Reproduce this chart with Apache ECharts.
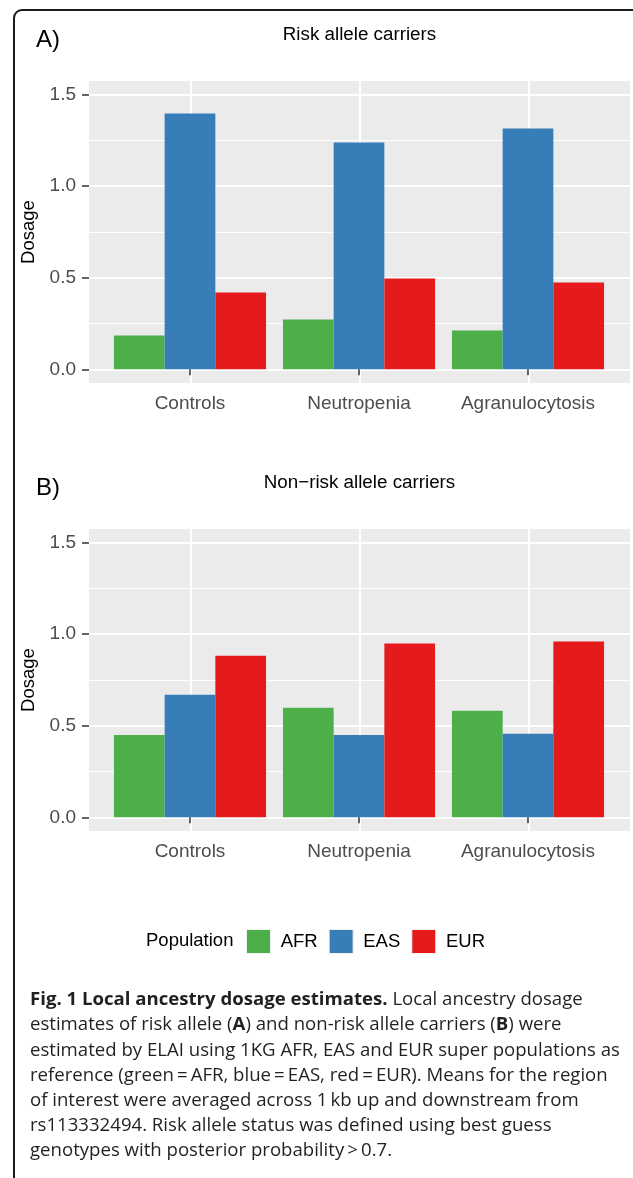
<!DOCTYPE html>
<html>
<head>
<meta charset="utf-8">
<script src="https://cdn.jsdelivr.net/npm/echarts@6/dist/echarts.min.js"></script>
<style>
html,body{margin:0;padding:0;background:#fff;}
#chart{width:633px;height:1178px;}
</style>
</head>
<body>
<div id="chart"></div>
<script>
// ---- data ----
const categories = ['Controls', 'Neutropenia', 'Agranulocytosis'];
const populations = ['AFR', 'EAS', 'EUR'];
const riskAFR = [0.184, 0.272, 0.212];
const riskEAS = [1.398, 1.239, 1.316];
const riskEUR = [0.419, 0.496, 0.474];
const nonRiskAFR = [0.450, 0.598, 0.582];
const nonRiskEAS = [0.669, 0.450, 0.456];
const nonRiskEUR = [0.883, 0.949, 0.960];
const yMajorTicks = [0, 0.5, 1.0, 1.5];
const yMinorTicks = [0.25, 0.75, 1.25];
const xGridPositions = [1, 2, 3];
const panelTitles = ['Risk allele carriers', 'Non\u2212risk allele carriers'];
const panelTags = ['A)', 'B)'];
const legendTitle = 'Population';
const captionLines = [
  '{b|Fig. 1 Local ancestry dosage estimates.} Local ancestry dosage',
  'estimates of risk allele ({b|A}) and non-risk allele carriers ({b|B}) were',
  'estimated by ELAI using 1KG AFR, EAS and EUR super populations as',
  'reference (green\u2009=\u2009AFR, blue\u2009=\u2009EAS, red\u2009=\u2009EUR). Means for the region',
  'of interest were averaged across 1\u2009kb up and downstream from',
  'rs113332494. Risk allele status was defined using best guess',
  'genotypes with posterior probability\u2009>\u20090.7.'
];

const colors = { AFR: '#4daf4a', EAS: '#377eb8', EUR: '#e41a1c' };
const FONT = '"Liberation Sans", Arial, Helvetica, sans-serif';
const CAP_FONT = '"Open Sans", "Noto Sans", sans-serif';
const CAP_SIZE = 18.6;

const chart = echarts.init(document.getElementById('chart'), null, { renderer: 'canvas' });

const gridTops = [81, 529];
const grids = [];
const xAxes = [];
const yAxes = [];
const YMIN = -0.075, YMAX = 1.575;

gridTops.forEach((t, gi) => {
  // background panel grid (full panel with ggplot expansion)
  grids.push({ left: 89, top: t, width: 541, height: 302,
    show: true, backgroundColor: '#ebebeb', borderWidth: 0 });
  // bar grid (category band area)
  grids.push({ left: 105.5, top: t, width: 507, height: 302, show: false });
  const bgIdx = gi * 2, barIdx = gi * 2 + 1;

  xAxes.push({
    type: 'value', gridIndex: bgIdx, min: 0.4, max: 3.6, position: 'bottom',
    axisLine: { show: false }, axisLabel: { show: false },
    axisTick: { show: false, customValues: xGridPositions },
    splitLine: { show: true, lineStyle: { color: '#ffffff', width: 2 } }
  });
  xAxes.push({
    type: 'category', gridIndex: barIdx, data: categories, boundaryGap: true, position: 'bottom',
    axisLine: { show: false },
    axisTick: { show: true, interval: 0, alignWithLabel: true, length: 6, lineStyle: { color: '#333', width: 1.5 } },
    axisLabel: { interval: 0, hideOverlap: false, color: '#4d4d4d', fontSize: 19, fontFamily: FONT, margin: 11 },
    splitLine: { show: false }
  });

  yAxes.push({
    type: 'value', gridIndex: bgIdx, min: YMIN, max: YMAX, position: 'left',
    name: 'Dosage', nameLocation: 'middle', nameGap: 46, nameRotate: 90,
    nameTextStyle: { color: '#000', fontSize: 18.5, fontFamily: FONT },
    axisLine: { show: false },
    axisTick: { show: true, length: 7, customValues: yMajorTicks, lineStyle: { color: '#333', width: 1.5 } },
    axisLabel: { color: '#4d4d4d', fontSize: 19, fontFamily: FONT, margin: 13,
      customValues: yMajorTicks, formatter: v => v.toFixed(1) },
    splitLine: { show: true, lineStyle: { color: '#ffffff', width: 2 } }
  });
  yAxes.push({
    type: 'value', gridIndex: bgIdx, min: YMIN, max: YMAX, position: 'left',
    axisLine: { show: false }, axisLabel: { show: false },
    axisTick: { show: false, customValues: yMinorTicks },
    splitLine: { show: true, lineStyle: { color: '#ffffff', width: 1 } }
  });
  yAxes.push({
    type: 'value', gridIndex: barIdx, min: YMIN, max: YMAX, show: false
  });
});

const panelData = [
  [riskAFR, riskEAS, riskEUR],
  [nonRiskAFR, nonRiskEAS, nonRiskEUR]
];
const series = [];
panelData.forEach((arrs, gi) => {
  arrs.forEach((vals, pi) => {
    const name = populations[pi];
    series.push({
      type: 'bar', name: name, xAxisIndex: gi * 2 + 1, yAxisIndex: gi * 3 + 2,
      data: vals, barGap: '0%', barCategoryGap: '10%',
      itemStyle: { color: colors[name] }, emphasis: { disabled: true }
    });
  });
});

const graphics = [];
graphics.push({
  type: 'rect', shape: { x: 14, y: 10, width: 700, height: 1300, r: 8 },
  style: { fill: 'none', stroke: '#1a1a1a', lineWidth: 2 }, silent: true
});
gridTops.forEach((t, gi) => {
  graphics.push({
    type: 'text', x: 36, y: t - 41,
    style: { text: panelTags[gi], fontSize: 24, fontFamily: FONT, fill: '#000',
      textAlign: 'left', textVerticalAlign: 'middle' }
  });
  graphics.push({
    type: 'text', x: 359.5, y: t - 46,
    style: { text: panelTitles[gi], fontSize: 18.8, fontFamily: FONT, fill: '#000',
      textAlign: 'center', textVerticalAlign: 'middle' }
  });
});
graphics.push({
  type: 'text', x: 146, y: 941,
  style: { text: legendTitle, fontSize: 18.5, fontFamily: FONT, fill: '#000',
    textAlign: 'left', textVerticalAlign: 'middle' }
});
captionLines.forEach((line, i) => {
  graphics.push({
    type: 'text', x: 30, y: 1000 + i * 25.2,
    style: {
      text: line, fontSize: CAP_SIZE, fontFamily: CAP_FONT, fill: '#231f20',
      textAlign: 'left', textVerticalAlign: 'middle',
      rich: { b: { fontWeight: 'bold', fontSize: CAP_SIZE, fontFamily: CAP_FONT, fill: '#231f20' } }
    }
  });
});

chart.setOption({
  animation: false,
  grid: grids,
  xAxis: xAxes,
  yAxis: yAxes,
  legend: {
    data: populations, left: 246, top: 929, padding: 0,
    itemWidth: 24, itemHeight: 24, itemGap: 11,
    icon: 'rect', formatter: n => ' ' + n,
    itemStyle: { borderColor: '#f2f2f2', borderWidth: 1 },
    textStyle: { fontSize: 18.5, fontFamily: FONT, color: '#000' },
    selectedMode: false
  },
  series: series,
  graphic: graphics
});
</script>
</body>
</html>
